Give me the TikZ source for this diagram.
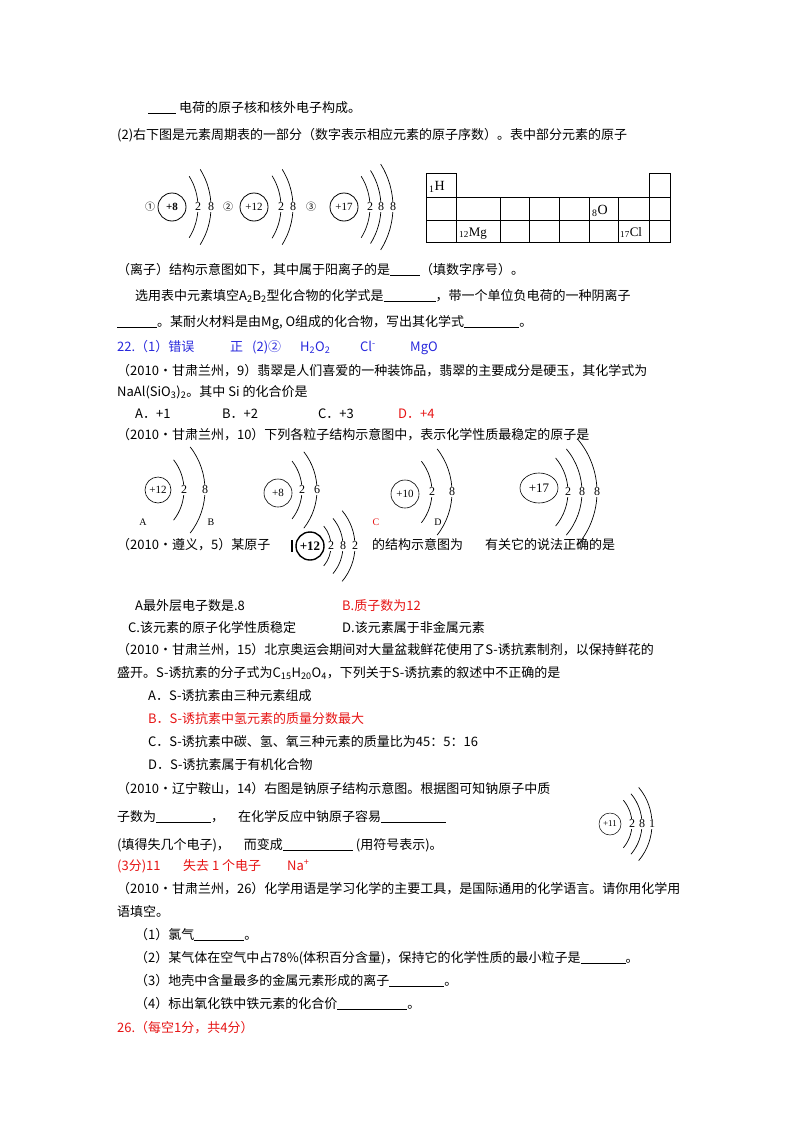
\documentclass[tikz,border=0pt]{standalone}
\usepackage{fontspec}
\usetikzlibrary{shapes.geometric}
\setmainfont{Noto Sans CJK SC}
\newfontfamily\ser{Liberation Serif}
\definecolor{ansred}{RGB}{230,20,20}
\definecolor{ansblue}{RGB}{40,40,220}
\newcommand\Shells[4]{\foreach \sx/\sn in {#4}{%
  \draw[line width=0.7pt] (#1,#2) ++(-#3:{(\sx-#1)*1pt}) arc[start angle=-#3,end angle=#3,radius={(\sx-#1)*1pt}];
  \node[fill=white,inner sep=0.6pt,font=\ser\fontsize{12}{12}\selectfont] at (\sx,#2) {\sn};}}
\begin{document}
\begin{tikzpicture}[x=1pt,y=-1pt,
  t/.style={anchor=base west,inner sep=0,font=\fontsize{13}{15}\selectfont},
  nuc/.style={circle,draw,line width=0.8pt,inner sep=0,font=\ser\fontsize{11}{11}\selectfont},
  cell/.style={draw,line width=0.8pt}]
\useasboundingbox (0,0) rectangle (800,1132);
\node[t] (l1) at (148,112) {\underline{\hspace{28pt}} 电荷的原子核和核外电子构成。};
\node[t] (l2) at (117,139) {(2)右下图是元素周期表的一部分（数字表示相应元素的原子序数）。表中部分元素的原子};
% top atoms
\node (n1) at (150,207) {①};
\node[nuc,minimum size=28pt] (a1) at (172,207) {\textbf{+8}};
\Shells{140}{207}{32}{198/2,211/8}
\node (n2) at (228,207) {②};
\node[nuc,minimum size=28pt] (a2) at (254,207) {+12};
\Shells{222}{207}{32}{281/2,293/8}
\node (n3) at (311,207) {③};
\node[nuc,minimum size=28pt] (a3) at (344,207) {+17};
\Shells{312}{207}{32}{370/2,381/8,393/8}
% table
\draw[cell] (426,173) rectangle (456,197);
\draw[cell] (649,173) rectangle (670,197);
\foreach \xa/\xb in {426/456,456/500,500/529,529/559,559/589,589/618,618/649,649/670}{
  \draw[cell] (\xa,197) rectangle (\xb,220);
  \draw[cell] (\xa,220) rectangle (\xb,242);}
\node[t,font=\ser\fontsize{14}{14}\selectfont] (eH) at (429,190) {\textsubscript{1}H};
\node[t,font=\ser\fontsize{14}{14}\selectfont] (eO) at (592,214) {\textsubscript{8}O};
\node[t,font=\ser\fontsize{13}{13}\selectfont] (eMg) at (459,236) {\textsubscript{12}Mg};
\node[t,font=\ser\fontsize{13}{13}\selectfont] (eCl) at (620,236) {\textsubscript{17}Cl};
\node[t] (l3) at (117,274) {（离子）结构示意图如下，其中属于阳离子的是\underline{\hspace{30pt}}（填数字序号）。};
\node[t] (l4) at (135,300) {选用表中元素填空A\textsubscript{2}B\textsubscript{2}型化合物的化学式是\underline{\hspace{52pt}}，带一个单位负电荷的一种阴离子};
\node[t] (l5) at (117,326) {\underline{\hspace{40pt}}。某耐火材料是由Mg, O组成的化合物，写出其化学式\underline{\hspace{55pt}}。};
\begin{scope}[every node/.append style={text=ansblue}]
\node[t] (b1) at (117,351) {22.（1）错误};
\node[t] (b2) at (230,351) {正};
\node[t] (b3) at (252,351) {(2)②};
\node[t] (b4) at (300,351) {H\textsubscript{2}O\textsubscript{2}};
\node[t] (b5) at (360,351) {Cl\textsuperscript{-}};
\node[t] (b6) at (410,351) {MgO};
\end{scope}
\node[t] (l6) at (117,375) {（2010·甘肃兰州，9）翡翠是人们喜爱的一种装饰品，翡翠的主要成分是硬玉，其化学式为};
\node[t] (l7) at (117,396) {NaAl(SiO\textsubscript{3})\textsubscript{2}。其中 Si 的化合价是};
\node[t] (oA) at (135,418) {A．+1};
\node[t] (oB) at (222,418) {B．+2};
\node[t] (oC) at (318,418) {C．+3};
\node[t,text=ansred] (oD) at (398,418) {D．+4};
\node[t] (l8) at (117,439) {（2010·甘肃兰州，10）下列各粒子结构示意图中，表示化学性质最稳定的原子是};
% second row atoms
\node[nuc,minimum size=26pt,line width=0.6pt] (pA) at (158,490) {+12};
\Shells{135}{490}{38}{184/2,205/8}
\node[nuc,minimum size=28pt,line width=0.6pt] (pB) at (278,493) {+8};
\Shells{255}{490}{38}{302/2,317/6}
\node[nuc,minimum size=28pt,line width=0.6pt] (pC) at (405,494) {+10};
\Shells{382}{492}{38}{432/2,452/8}
\node[nuc,ellipse,minimum width=38pt,minimum height=30pt,line width=0.6pt] (pD) at (539,488) {\fontsize{13}{13}\selectfont +17};
\Shells{515}{492}{40}{568/2,582/8,597/8}
\node[font=\ser] (lA) at (143,522) {A};
\node[font=\ser] (lB) at (211,522) {B};
\node[font=\ser,text=ansred] (lC) at (376,522) {C};
\node[font=\ser] (lD) at (438,522) {D};
\node[t] (l9) at (117,549) {（2010·遵义，5）某原子};
\node[nuc,minimum size=28pt,line width=1.4pt,font=\ser\bfseries\fontsize{13}{13}\selectfont] (pZ) at (310,546) {+12};
\draw[line width=1.2pt] (292,540) -- (292,552);
\begin{scope}[line width=1.3pt]
\Shells{300}{546}{40}{331/2,343/8,355/2}
\end{scope}
\node[t] (l10) at (372,549) {的结构示意图为};
\node[t] (l11) at (485,549) {有关它的说法正确的是};
\node[t] (q1) at (135,610) {A最外层电子数是.8};
\node[t,text=ansred] (q2) at (342,610) {B.质子数为12};
\node[t] (q3) at (128,632) {C.该元素的原子化学性质稳定};
\node[t] (q4) at (342,632) {D.该元素属于非金属元素};
\node[t] (l12) at (117,654) {（2010·甘肃兰州，15）北京奥运会期间对大量盆栽鲜花使用了S-诱抗素制剂，以保持鲜花的};
\node[t] (l13) at (117,677) {盛开。S-诱抗素的分子式为C\textsubscript{15}H\textsubscript{20}O\textsubscript{4}，下列关于S-诱抗素的叙述中不正确的是};
\node[t] (s1) at (148,700) {A．S-诱抗素由三种元素组成};
\node[t,text=ansred] (s2) at (148,723) {B．S-诱抗素中氢元素的质量分数最大};
\node[t] (s3) at (148,746) {C．S-诱抗素中碳、氢、氧三种元素的质量比为45：5：16};
\node[t] (s4) at (148,769) {D．S-诱抗素属于有机化合物};
\node[t] (l14) at (117,793) {（2010·辽宁鞍山，14）右图是钠原子结构示意图。根据图可知钠原子中质};
\node[t] (l15) at (117,821) {子数为\underline{\hspace{55pt}}，\hspace{14pt}在化学反应中钠原子容易\underline{\hspace{65pt}}};
\node[t] (l16) at (117,849) {(填得失几个电子)，\hspace{14pt}而变成\underline{\hspace{70pt}} (用符号表示)。};
\node[nuc,minimum size=22pt,line width=0.5pt,font=\ser\fontsize{9}{9}\selectfont] (pNa) at (610,824) {+11};
\Shells{595}{824}{40}{632/2,642/8,652/1}
\node[t,text=ansred] (r1) at (117,870) {(3分)11};
\node[t,text=ansred] (r2) at (183,870) {失去 1 个电子};
\node[t,text=ansred] (r3) at (287,870) {Na\textsuperscript{+}};
\node[t] (l17) at (117,893) {（2010·甘肃兰州，26）化学用语是学习化学的主要工具，是国际通用的化学语言。请你用化学用};
\node[t] (l18) at (117,916) {语填空。};
\node[t] (f1) at (135,939) {（1）氯气\underline{\hspace{50pt}}。};
\node[t] (f2) at (135,962) {（2）某气体在空气中占78\%(体积百分含量)，保持它的化学性质的最小粒子是\underline{\hspace{45pt}}。};
\node[t] (f3) at (135,985) {（3）地壳中含量最多的金属元素形成的离子\underline{\hspace{55pt}}。};
\node[t] (f4) at (135,1008) {（4）标出氧化铁中铁元素的化合价\underline{\hspace{70pt}}。};
\node[t,text=ansred] (f5) at (117,1032) {26.（每空1分，共4分）};
\end{tikzpicture}
\end{document}
